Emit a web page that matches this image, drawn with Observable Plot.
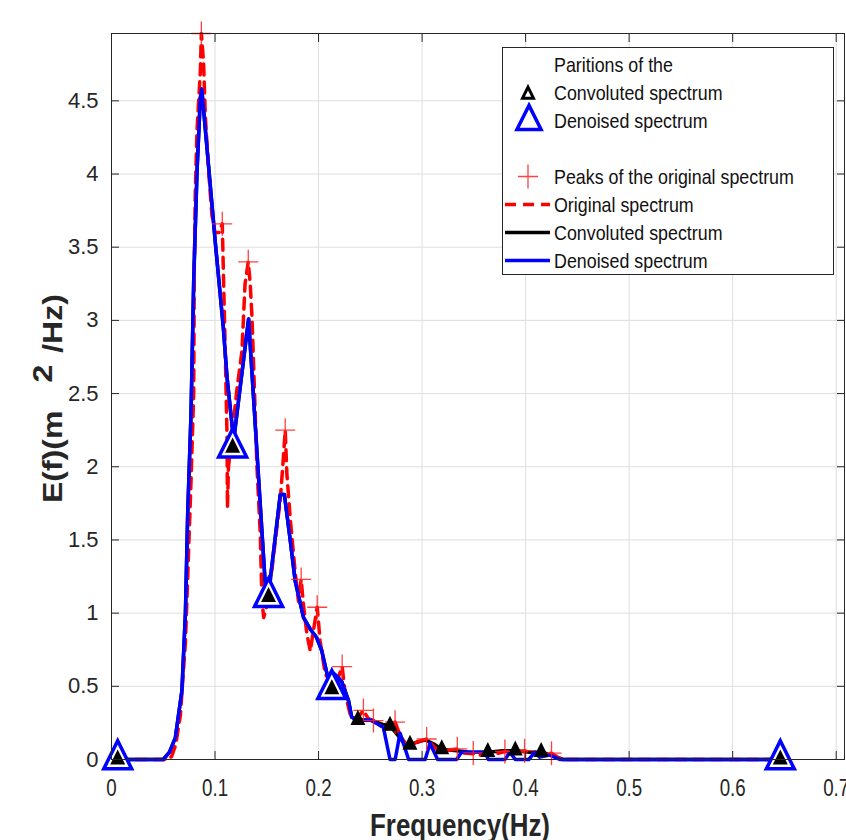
<!DOCTYPE html>
<html><head><meta charset="utf-8">
<script src="https://cdn.jsdelivr.net/npm/d3@7"></script>
<script src="https://cdn.jsdelivr.net/npm/@observablehq/plot@0.6"></script>
<style>
html,body{margin:0;padding:0;background:#fff;}
#wrap{width:846px;height:840px;overflow:hidden;position:relative;}
#wrap svg{max-width:none !important;}
</style></head><body><div id="wrap"></div>
<script>
// Denoised spectrum
const denoisedX = [0.006,0.05,0.056,0.0617,0.068,0.0714,0.0736,0.0768,0.0794,0.0826,0.0858,0.0872,0.1003,0.108,0.1116,0.118,0.1324,0.1485,0.1517,0.163,0.167,0.1726,0.1774,0.1855,0.192,0.198,0.203,0.2096,0.2128,0.219,0.2225,0.229,0.232,0.237,0.25,0.2626,0.269,0.274,0.2787,0.287,0.303,0.3076,0.315,0.3334,0.338,0.3607,0.364,0.38,0.3848,0.39,0.403,0.409,0.4137,0.4233,0.433,0.646];
const denoisedY = [0,0,0.05,0.15,0.47,1.0,1.68,2.36,3.27,4.02,4.52,4.58,3.53,2.95,2.61,2.18,3.01,1.2,1.13,1.81,1.81,1.5,1.22,0.97,0.89,0.835,0.745,0.54,0.6,0.56,0.53,0.40,0.29,0.266,0.27,0.22,0,0,0.18,0,0,0.11,0,0,0.05,0.05,0,0,0.05,0,0,0.05,0.016,0.03,0,0];
// Convoluted spectrum (same as denoised up to 0.237, then tail)
const convX = [0.006,0.05,0.056,0.0617,0.068,0.0714,0.0736,0.0768,0.0794,0.0826,0.0858,0.0872,0.1003,0.108,0.1116,0.118,0.1324,0.1485,0.1517,0.163,0.167,0.1726,0.1774,0.1855,0.192,0.198,0.203,0.2096,0.2128,0.219,0.2225,0.229,0.232,0.237,0.25,0.262,0.269,0.2755,0.285,0.295,0.303,0.311,0.319,0.3334,0.346,0.3635,0.378,0.391,0.404,0.416,0.43,0.436,0.646];
const convY = [0,0,0.05,0.15,0.47,1.0,1.68,2.36,3.27,4.02,4.52,4.58,3.53,2.95,2.61,2.18,3.01,1.2,1.13,1.81,1.81,1.5,1.22,0.97,0.89,0.835,0.745,0.54,0.6,0.56,0.53,0.40,0.29,0.27,0.27,0.24,0.23,0.175,0.09,0.118,0.135,0.107,0.07,0.06,0.05,0.05,0.06,0.06,0.05,0.05,0.016,0,0];
// Original spectrum
const origX = [0.006,0.054,0.058,0.062,0.0665,0.0714,0.0746,0.0768,0.0794,0.080,0.081,0.0826,0.0858,0.0868,0.089,0.0906,0.094,0.097,0.100,0.104,0.107,0.108,0.110,0.1116,0.112,0.113,0.117,0.121,0.126,0.129,0.1321,0.134,0.1357,0.137,0.1389,0.1405,0.1437,0.1453,0.147,0.150,0.155,0.160,0.163,0.166,0.1678,0.1694,0.1726,0.1774,0.1806,0.1832,0.1855,0.1887,0.192,0.195,0.1987,0.2015,0.2064,0.2144,0.219,0.2228,0.2257,0.2305,0.236,0.2433,0.248,0.253,0.26,0.266,0.2739,0.279,0.285,0.292,0.298,0.3044,0.310,0.316,0.322,0.334,0.340,0.3494,0.356,0.365,0.372,0.380,0.389,0.399,0.406,0.415,0.425,0.432,0.44,0.646];
const origY = [0,0,0.02,0.1,0.3,0.8,1.45,1.9,2.5,3.4,3.9,4.3,4.7,4.96,4.75,4.4,4.0,3.72,3.6,3.6,3.66,3.35,2.75,2.2,1.72,2.0,2.25,2.52,2.79,3.25,3.40,3.25,3.02,2.75,2.34,2.0,1.54,1.09,0.97,1.05,1.3,1.6,1.77,2.06,2.25,1.95,1.65,1.28,1.08,1.23,1.05,0.86,0.74,0.88,1.04,0.81,0.585,0.5,0.56,0.635,0.45,0.31,0.27,0.335,0.28,0.266,0.23,0.21,0.255,0.16,0.1,0.11,0.125,0.14,0.1,0.055,0.06,0.073,0.045,0.04,0.03,0.045,0.04,0.055,0.045,0.06,0.04,0.035,0.043,0.01,0,0];
// Peaks of the original spectrum
const peakX = [0.0868,0.107,0.1321,0.1678,0.1832,0.1987,0.2228,0.2433,0.253,0.2739,0.3044,0.334,0.3494,0.380,0.399,0.425];
const peakY = [4.96,3.66,3.40,2.25,1.23,1.04,0.635,0.335,0.266,0.255,0.14,0.073,0.045,0.055,0.06,0.043];
// Partitions
const partConvX = [0.006,0.117,0.1517,0.2128,0.238,0.269,0.2883,0.319,0.3635,0.39,0.415,0.646];
const partConvY = [0,2.13,1.11,0.48,0.27,0.23,0.10,0.07,0.05,0.06,0.05,0];
const partDenX = [0.006,0.117,0.1517,0.2128,0.646];
const partDenY = [0,2.13,1.11,0.48,0];

const xTicks = [0,0.1,0.2,0.3,0.4,0.5,0.6,0.7];
const yTicks = [0,0.5,1,1.5,2,2.5,3,3.5,4,4.5];

const rows = (xs, ys) => xs.map((x, i) => ({x, y: ys[i]}));
const triSymbol = {draw(ctx, size) { const r = Math.sqrt(size / Math.PI); const hw = 1.27 * r, h = 2.55 * r; ctx.moveTo(0, -2 * h / 3); ctx.lineTo(hw, h / 3); ctx.lineTo(-hw, h / 3); ctx.closePath(); }};
const plusSymbol = {draw(ctx, size) { const r = Math.sqrt(size / Math.PI); ctx.moveTo(-r, 0); ctx.lineTo(r, 0); ctx.moveTo(0, -1.2 * r); ctx.lineTo(0, 1.2 * r); }};

const ink = "#262626";
const chart = Plot.plot({
  width: 870, height: 840,
  marginLeft: 111, marginRight: 26, marginTop: 33, marginBottom: 81,
  style: {fontFamily: "'Liberation Sans', Arial, sans-serif", background: "white", overflow: "visible", maxWidth: "none"},
  x: {domain: [0, 0.708], label: null},
  y: {domain: [0, 4.96], label: null},
  marks: [
    Plot.gridX(xTicks, {stroke: "#dedede", strokeOpacity: 1}),
    Plot.gridY(yTicks, {stroke: "#dedede", strokeOpacity: 1}),
    Plot.line(rows(convX, convY), {x: "x", y: "y", stroke: "#000", strokeWidth: 3.5}),
    Plot.line(rows(origX, origY), {x: "x", y: "y", stroke: "#ff0000", strokeWidth: 3.5, strokeDasharray: "11,7"}),
    Plot.line(rows(denoisedX, denoisedY), {x: "x", y: "y", stroke: "#0000ff", strokeWidth: 3.5}),
    Plot.dot(rows(peakX, peakY), {x: "x", y: "y", r: 10, symbol: plusSymbol, stroke: "#ff2020", strokeWidth: 1.3, strokeOpacity: 0.85, fill: "none"}),
    Plot.dot(rows(partDenX, partDenY), {x: "x", y: "y", r: 11, symbol: triSymbol, stroke: "#0000ff", strokeWidth: 3.5, fill: "white"}),
    Plot.dot(rows(partConvX, partConvY), {x: "x", y: "y", r: 4.3, symbol: triSymbol, stroke: "#000", strokeWidth: 2.5, fill: "#000"}),
    Plot.frame({stroke: ink}),
    Plot.axisX({ticks: xTicks, anchor: "bottom", tickSize: -8, fill: "none", stroke: ink, label: null}),
    Plot.axisX({ticks: xTicks, anchor: "top", tickSize: -8, fill: "none", stroke: ink, label: null}),
    Plot.axisY({ticks: yTicks, anchor: "left", tickSize: -8, fill: "none", stroke: ink, label: null}),
    Plot.axisY({ticks: yTicks, anchor: "right", tickSize: -8, fill: "none", stroke: ink, label: null}),
    Plot.axisX({ticks: xTicks, anchor: "bottom", tickSize: 0, tickPadding: 19, fontSize: 24, fill: ink, label: null, tickFormat: d => d === 0 ? "0" : d.toFixed(1)}),
    Plot.axisY({ticks: yTicks, anchor: "left", tickSize: 0, tickPadding: 13, fontSize: 22, fill: ink, label: null, tickFormat: d => String(d)})
  ]
});
document.getElementById("wrap").appendChild(chart);

const svg = d3.select(chart);
// condense x tick labels
svg.selectAll('g[aria-label="x-axis tick label"] text').attr("transform", function() {
  return (this.getAttribute("transform") || "") + " scale(0.78,1)";
});

const FONT = "'Liberation Sans', Arial, sans-serif";
// y-axis title
const yl = svg.append("text")
  .attr("transform", "translate(62,503) rotate(-90) scale(1,0.85)")
  .attr("text-anchor", "start")
  .attr("font-weight", "bold").attr("font-size", 32).attr("fill", ink)
  .attr("font-family", FONT);
yl.append("tspan").text("E(f)(m");
yl.append("tspan").attr("dx", 28).attr("dy", -12).text("2");
yl.append("tspan").attr("dx", 12).attr("dy", 12).text("/Hz)");

// x-axis title
svg.append("text")
  .attr("transform", "translate(460,836) scale(0.81,1)")
  .attr("text-anchor", "middle").attr("font-weight", "bold").attr("font-size", 32).attr("fill", ink)
  .attr("font-family", FONT)
  .text("Frequency(Hz)");

// legend
const legendLabels = ["Paritions of the", "Convoluted spectrum", "Denoised spectrum", "", "Peaks of the original spectrum", "Original spectrum", "Convoluted spectrum", "Denoised spectrum"];
const lg = svg.append("g").attr("font-family", FONT).attr("text-anchor", "start");
lg.append("rect").attr("x", 502.5).attr("y", 47.5).attr("width", 331).attr("height", 227)
  .attr("fill", "white").attr("stroke", ink).attr("stroke-width", 1);
const rowY = i => 64.5 + i * 28;
legendLabels.forEach((t, i) => {
  if (!t) return;
  lg.append("text").attr("transform", `translate(554,${rowY(i)}) scale(0.85,1)`)
    .attr("text-anchor", "start")
    .attr("dy", "0.35em").attr("font-size", 21).attr("fill", "#111").text(t);
});
const symPath = (sym, r) => { const p = d3.path(); sym.draw(p, Math.PI * r * r); return p.toString(); };
lg.append("path").attr("transform", `translate(528,${rowY(1) + 2})`).attr("d", symPath(triSymbol, 4.3))
  .attr("fill", "white").attr("stroke", "#000").attr("stroke-width", 3);
lg.append("path").attr("transform", `translate(529,${rowY(2) + 1})`).attr("d", symPath(triSymbol, 9.5))
  .attr("fill", "white").attr("stroke", "#0000ff").attr("stroke-width", 3.5);
lg.append("path").attr("transform", `translate(528,${rowY(4)})`).attr("d", symPath(plusSymbol, 10))
  .attr("fill", "none").attr("stroke", "#ff2020").attr("stroke-width", 1.3).attr("stroke-opacity", 0.85);
[[5, "#ff0000", "11,7"], [6, "#000", null], [7, "#0000ff", null]].forEach(([i, c, dash]) => {
  const l = lg.append("line").attr("x1", 505).attr("x2", 550).attr("y1", rowY(i)).attr("y2", rowY(i))
    .attr("stroke", c).attr("stroke-width", 3.5);
  if (dash) l.attr("stroke-dasharray", dash);
});
</script></body></html>
